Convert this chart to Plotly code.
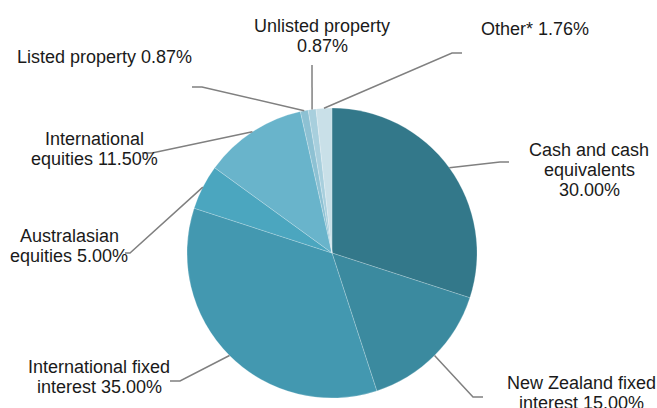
import math
import plotly.graph_objects as go

# ---- data ----
categories = ["Cash and cash equivalents", "New Zealand fixed interest",
              "International fixed interest", "Australasian equities",
              "International equities", "Listed property",
              "Unlisted property", "Other*"]
values = [30.00, 15.00, 35.00, 5.00, 11.50, 0.87, 0.87, 1.76]
label_lines = [["Cash and cash", "equivalents", "30.00%"],
               ["New Zealand fixed", "interest 15.00%"],
               ["International fixed", "interest 35.00%"],
               ["Australasian", "equities 5.00%"],
               ["International", "equities 11.50%"],
               ["Listed property 0.87%"],
               ["Unlisted property", "0.87%"],
               ["Other* 1.76%"]]
colors = ["#33788A", "#3B8A9F", "#4398B0", "#4BA6BF",
          "#69B4CB", "#8DC1D3", "#A8CFDD", "#C9E0E8"]

# ---- layout (pixels) ----
W, H = 657, 408
CX, CY, R = 332, 253, 145
# label first-line centre and line spacing
label_pos = [(589, 150), (581, 383), (99, 367), (69, 236), (94, 139),
             (104, 57), (322, 26), (535, 29)]
LINE_GAP = 20
# leader elbows and ends
elbows = [(500, 162), (473, 397), (180, 381), (130, 253), (152, 153),
          (202, 87), (312, 65), (452, 53)]
ends = [(509, 162), (483, 397), (170, 381), (125, 253), (142, 153),
        (192, 87), (312, 65), (462, 53)]


def px(x):
    return x / W


def py(y):
    return 1 - y / H


fig = go.Figure(go.Pie(
    labels=categories, values=values, sort=False, direction="clockwise",
    rotation=0, textinfo="none", hoverinfo="label+percent",
    marker=dict(colors=colors, line=dict(color="rgba(255,255,255,0.35)", width=0.6)),
    domain=dict(x=[px(CX - R), px(CX + R)], y=[py(CY + R), py(CY - R)]),
    showlegend=False,
))

total = sum(values)
cum = 0
shapes = []
annotations = []
for i, v in enumerate(values):
    mid = (cum + v / 2) / total * 2 * math.pi
    cum += v
    sx = CX + R * math.sin(mid)
    sy = CY - R * math.cos(mid)
    ex, ey = elbows[i]
    fx, fy = ends[i]
    path = f"M {px(sx)},{py(sy)} L {px(ex)},{py(ey)} L {px(fx)},{py(fy)}"
    shapes.append(dict(type="path", xref="paper", yref="paper", path=path,
                       line=dict(color="#808080", width=1.5)))
    lx, ly = label_pos[i]
    for j, t in enumerate(label_lines[i]):
        annotations.append(dict(
            x=px(lx), y=py(ly + j * LINE_GAP), xref="paper", yref="paper",
            text=t, showarrow=False, xanchor="center", yanchor="middle",
            font=dict(family="Arial, Liberation Sans, sans-serif", size=18,
                      color="#1A1A1A")))

fig.update_layout(
    width=W, height=H, margin=dict(l=0, r=0, t=0, b=0),
    paper_bgcolor="white", plot_bgcolor="white",
    shapes=shapes, annotations=annotations,
)

fig.write_html("out.html", config={"displayModeBar": False},
               post_script="document.body.style.margin='0';document.body.style.overflow='hidden';")
